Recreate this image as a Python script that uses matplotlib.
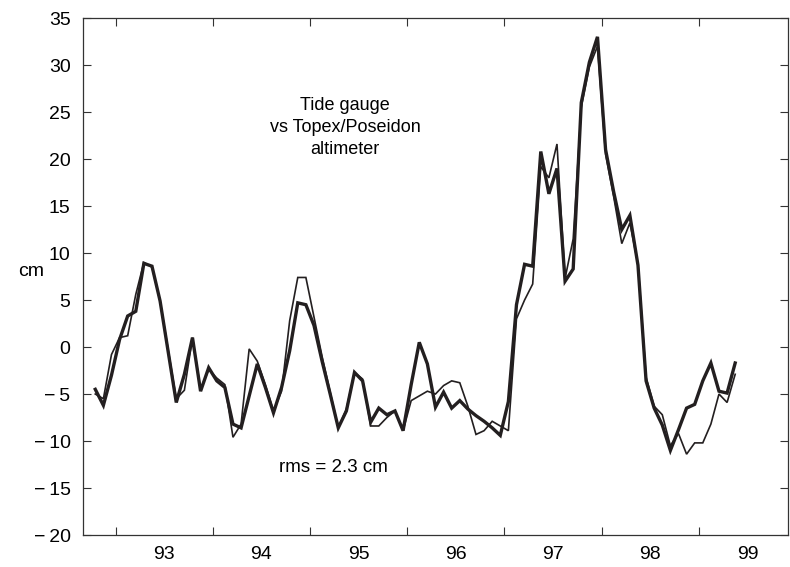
import matplotlib
matplotlib.use("Agg")
import matplotlib.pyplot as plt
import numpy as np
from matplotlib.ticker import FixedLocator, FixedFormatter, NullFormatter

plt.rcParams['font.family'] = ['Liberation Sans', 'DejaVu Sans']

# ---- data (monthly values, cm) ----
start_year = 1992.79
tide_gauge = [-4.5, -6.2, -3.0, 0.8, 3.3, 3.8, 8.9, 8.6, 4.9, -0.5,
              -5.9, -2.9, 1.0, -4.7, -2.2, -3.6, -4.3, -8.2, -8.6, -5.2,
              -1.8, -4.3, -7.0, -4.3, -0.4, 4.7, 4.5, 2.3, -1.5, -5.0,
              -8.6, -6.8, -2.7, -3.6, -8.0, -6.5, -7.2, -6.8, -8.9, -4.0,
              0.5, -1.8, -6.4, -4.8, -6.5, -5.7, -6.6, -7.3, -7.9, -8.6,
              -9.4, -5.8, 4.5, 8.8, 8.6, 20.8, 16.3, 19.0, 7.0, 8.3,
              26.0, 30.3, 33.0, 21.0, 16.5, 12.5, 14.0, 8.7, -3.6, -6.5,
              -8.3, -11.0, -8.8, -6.5, -6.1, -3.6, -1.7, -4.7, -4.9, -1.7]
altimeter = [-5.0, -5.5, -0.8, 1.0, 1.2, 5.6, 9.0, 8.5, 4.9, -0.3,
             -5.5, -4.6, 1.0, -4.5, -2.4, -3.3, -4.0, -9.6, -8.2, -0.2,
             -1.5, -4.0, -6.8, -4.7, 2.8, 7.4, 7.4, 3.2, -1.0, -4.8,
             -8.6, -6.6, -2.7, -3.4, -8.4, -8.4, -7.5, -6.8, -8.9, -5.7,
             -5.2, -4.7, -5.0, -4.1, -3.6, -3.8, -6.3, -9.3, -8.9, -7.9,
             -8.4, -8.9, 3.0, 5.0, 6.7, 19.2, 18.0, 21.6, 7.3, 11.5,
             25.5, 29.8, 32.0, 20.5, 16.0, 11.0, 13.2, 8.8, -3.2, -6.3,
             -7.2, -10.5, -9.2, -11.4, -10.2, -10.2, -8.2, -5.0, -5.9, -2.9]
year_ticks = [1993, 1994, 1995, 1996, 1997, 1998, 1999]
year_labels = ['93', '94', '95', '96', '97', '98', '99']
y_ticks = [-20, -15, -10, -5, 0, 5, 10, 15, 20, 25, 30, 35]

t = start_year + np.arange(len(tide_gauge)) / 12.0

ink = '#231f20'
fig = plt.figure(figsize=(7.9, 5.67), dpi=100)
ax = fig.add_axes([0.1051, 0.0564, 0.8924, 0.9118])

ax.plot(t, altimeter, color=ink, lw=1.2, solid_joinstyle='miter')
ax.plot(t, tide_gauge, color=ink, lw=2.4, solid_joinstyle='miter')

ax.set_xlim(1992.664, 1999.917)
ax.set_ylim(-20, 35)

# x: ticks at year boundaries, labels mid-year
ax.xaxis.set_major_locator(FixedLocator(year_ticks))
ax.xaxis.set_major_formatter(NullFormatter())
ax.xaxis.set_minor_locator(FixedLocator([y + 0.5 for y in year_ticks]))
ax.xaxis.set_minor_formatter(FixedFormatter(year_labels))
ax.yaxis.set_major_locator(FixedLocator(y_ticks))
ax.yaxis.set_major_formatter(FixedFormatter(
    [('\u2212\u2009' + str(abs(v))) if v < 0 else str(v) for v in y_ticks]))

ax.tick_params(which='major', direction='in', length=6, width=0.8,
               top=True, right=True, color='#333333', labelsize=14, pad=9)
ax.tick_params(axis='x', which='minor', length=0, labelsize=14, pad=8,
               top=False)
for s in ax.spines.values():
    s.set_color('#333333')
    s.set_linewidth(0.9)

ax.text(1995.36, 23.4, 'Tide gauge\nvs Topex/Poseidon\naltimeter',
        ha='center', va='center', multialignment='center', fontsize=13,
        linespacing=1.38, color='black')
ax.text(1995.24, -12.8, 'rms = 2.3 cm', ha='center', va='center',
        fontsize=13.5, color='black')
fig.text(31 / 790, 1 - 272 / 567, 'cm', ha='center', va='center',
         fontsize=14, color='black')

fig.savefig('out.png', dpi=100)
